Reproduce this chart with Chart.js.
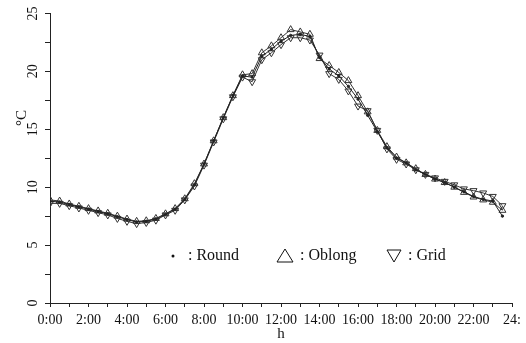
<!DOCTYPE html>
<html>
<head>
<meta charset="utf-8">
<script src="https://cdn.jsdelivr.net/npm/chart.js@4"></script>
<style>
  body { margin: 0; background: #fff; }
  #wrap { width: 526px; height: 343px; }
</style>
</head>
<body>
<div id="wrap"><canvas id="myChart" width="526" height="343"></canvas></div>
<script>
// half-hourly readings, 0:00 .. 23:30
const hours = [0, 0.5, 1, 1.5, 2, 2.5, 3, 3.5, 4, 4.5, 5, 5.5, 6, 6.5, 7, 7.5, 8, 8.5, 9, 9.5,
  10, 10.5, 11, 11.5, 12, 12.5, 13, 13.5, 14, 14.5, 15, 15.5, 16, 16.5, 17, 17.5, 18, 18.5, 19, 19.5,
  20, 20.5, 21, 21.5, 22, 22.5, 23, 23.5];

const round = [8.8, 8.7, 8.5, 8.3, 8.1, 7.9, 7.7, 7.45, 7.2, 7.0, 7.05, 7.25, 7.65, 8.1, 8.95, 10.2, 12.0, 14.0, 16.0, 17.9,
  19.6, 19.5, 21.3, 21.9, 22.6, 23.1, 23.2, 23.0, 21.2, 20.2, 19.6, 18.7, 17.6, 16.2, 14.8, 13.4, 12.5, 12.1, 11.5, 11.1,
  10.7, 10.4, 10.0, 9.6, 9.2, 8.95, 8.8, 7.5];

const oblong = [8.9, 8.8, 8.55, 8.35, 8.15, 7.95, 7.75, 7.5, 7.25, 7.05, 7.1, 7.3, 7.7, 8.15, 9.0, 10.3, 12.0, 14.0, 16.0, 17.9,
  19.7, 19.8, 21.6, 22.2, 22.9, 23.6, 23.4, 23.2, 21.1, 20.5, 19.9, 19.2, 17.9, 16.5, 14.9, 13.5, 12.6, 12.1, 11.6, 11.1,
  10.7, 10.4, 10.0, 9.55, 9.15, 8.9, 8.7, 8.0];

const grid = [8.6, 8.6, 8.4, 8.2, 8.0, 7.8, 7.6, 7.3, 7.05, 6.85, 6.95, 7.15, 7.6, 8.0, 8.9, 10.1, 11.9, 13.9, 15.9, 17.8,
  19.5, 19.1, 21.0, 21.6, 22.3, 22.9, 22.9, 22.7, 21.4, 19.8, 19.3, 18.3, 17.0, 16.6, 14.9, 13.3, 12.4, 12.0, 11.5, 11.1,
  10.8, 10.5, 10.2, 9.85, 9.7, 9.5, 9.2, 8.4];

const legendItems = ['Round', 'Oblong', 'Grid'];

function pts(vals) {
  return hours.map((h, i) => ({ x: h, y: vals[i] }));
}

const FONT = '"Liberation Serif", serif';

// draws the °C title and the in-plot legend
const extras = {
  id: 'extras',
  afterDraw(chart) {
    const ctx = chart.ctx;
    ctx.save();
    ctx.fillStyle = '#111';
    ctx.strokeStyle = '#111';
    ctx.lineWidth = 1;
    // y title
    ctx.translate(22, 118);
    ctx.rotate(-Math.PI / 2);
    ctx.font = '15px ' + FONT;
    ctx.textAlign = 'center';
    ctx.textBaseline = 'middle';
    ctx.fillText('°C', 0, 0);
    ctx.restore();

    ctx.save();
    ctx.fillStyle = '#111';
    ctx.strokeStyle = '#111';
    ctx.lineWidth = 1;
    ctx.font = '16px ' + FONT;
    ctx.textBaseline = 'middle';
    const y = 256;
    // round
    ctx.beginPath();
    ctx.arc(173, y, 1.5, 0, Math.PI * 2);
    ctx.fill();
    ctx.fillText(': ' + legendItems[0], 188, y);
    // oblong (up triangle)
    ctx.beginPath();
    ctx.moveTo(285, y - 7);
    ctx.lineTo(277, y + 6);
    ctx.lineTo(293, y + 6);
    ctx.closePath();
    ctx.stroke();
    ctx.fillText(': ' + legendItems[1], 300, y);
    // grid (down triangle)
    ctx.beginPath();
    ctx.moveTo(387, y - 6);
    ctx.lineTo(401, y - 6);
    ctx.lineTo(394, y + 6);
    ctx.closePath();
    ctx.stroke();
    ctx.fillText(': ' + legendItems[2], 408, y);
    ctx.restore();
  }
};

const ctx = document.getElementById('myChart');

new Chart(ctx, {
  type: 'line',
  data: {
    datasets: [{
      label: legendItems[0],
      data: pts(round),
      borderColor: '#222',
      borderWidth: 1,
      pointStyle: 'circle',
      pointRadius: 1.2,
      pointBackgroundColor: '#222',
      pointBorderColor: '#222'
    }, {
      label: legendItems[1],
      data: pts(oblong),
      borderColor: '#333',
      borderWidth: 1,
      pointStyle: 'triangle',
      pointRadius: 4,
      pointBackgroundColor: 'rgba(255,255,255,0)',
      pointBorderColor: '#333',
      pointBorderWidth: 1
    }, {
      label: legendItems[2],
      data: pts(grid),
      borderColor: '#333',
      borderWidth: 1,
      pointStyle: 'triangle',
      pointRotation: 180,
      pointRadius: 4,
      pointBackgroundColor: 'rgba(255,255,255,0)',
      pointBorderColor: '#333',
      pointBorderWidth: 1
    }]
  },
  options: {
    responsive: false,
    animation: false,
    layout: { padding: { top: 10, right: 9, left: 0, bottom: 0 } },
    plugins: {
      legend: { display: false },
      tooltip: { enabled: false }
    },
    scales: {
      x: {
        type: 'linear',
        min: 0,
        max: 24,
        afterFit(scale) { scale.height = 40; },
        grid: { drawOnChartArea: false, tickLength: 4, color: '#222' },
        border: { color: '#222', width: 1 },
        ticks: {
          stepSize: 1,
          maxRotation: 0,
          autoSkip: false,
          padding: 5,
          color: '#111',
          font: { family: FONT, size: 14 },
          callback: v => v % 2 !== 0 ? '' : (v === 24 ? '24:' : v + ':00')
        },
        title: {
          display: true,
          text: 'h',
          color: '#111',
          padding: 0,
          font: { family: FONT, size: 15 }
        }
      },
      y: {
        min: 0,
        max: 25,
        afterFit(scale) { scale.width = 50; },
        grid: { drawOnChartArea: false, tickLength: 5, color: '#222' },
        border: { color: '#222', width: 1 },
        ticks: {
          stepSize: 2.5,
          minRotation: 90,
          maxRotation: 90,
          crossAlign: 'center',
          padding: 5,
          color: '#111',
          font: { family: FONT, size: 14 },
          callback: v => v % 5 === 0 ? v : ''
        }
      }
    }
  },
  plugins: [extras]
});
</script>
</body>
</html>
